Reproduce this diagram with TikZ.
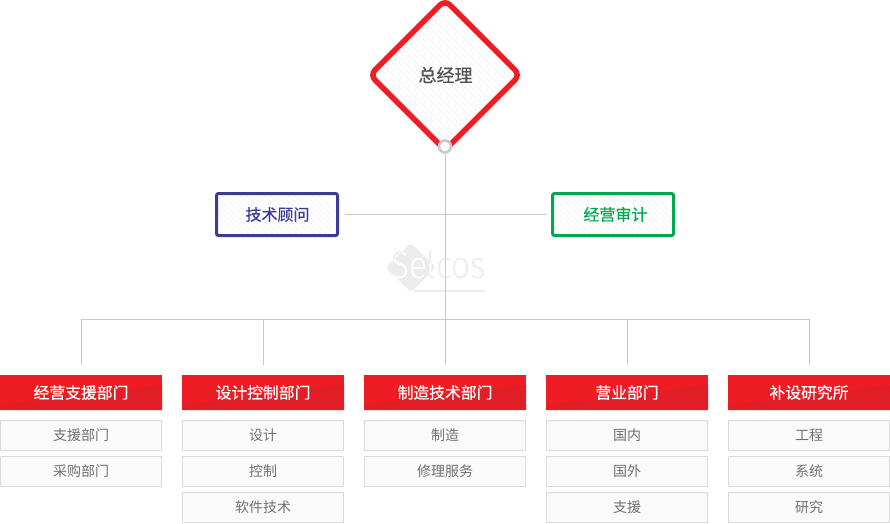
\documentclass[tikz,border=0pt]{standalone}
\usepackage{fontspec}
\setmainfont{Noto Sans CJK SC}
\newfontfamily\boldish[FakeBold=0.5]{Noto Sans CJK SC}
\newfontfamily\wmfont{Fira Sans Light}
\definecolor{redm}{HTML}{EE1C25}
\definecolor{redd}{HTML}{E11E26}
\definecolor{navy}{HTML}{3A3C96}
\definecolor{grn}{HTML}{00A651}
\definecolor{linec}{HTML}{C8C8C8}
\definecolor{itemb}{HTML}{DADADA}
\definecolor{itemf}{HTML}{FAFAFA}
\definecolor{itemt}{HTML}{707070}
\definecolor{hatch}{HTML}{EDEDED}
\definecolor{wm}{HTML}{ECECEC}
\tikzset{
 x=1pt,y=-1pt,
 px/.style={inner sep=0pt,outer sep=0pt},
 conn/.style={draw=linec,line width=1pt},
 headbox/.style={px,minimum width=162pt,minimum height=35pt,text=white,font=\boldish\fontsize{15.8pt}{17pt}\selectfont},
 itembox/.style={px,draw=itemb,fill=itemf,line width=1pt,minimum width=161pt,minimum height=30pt,text=itemt,font=\fontsize{14pt}{15pt}\selectfont},
 topbox/.style={px,minimum width=121pt,minimum height=42pt,font=\boldish\fontsize{16pt}{17pt}\selectfont},
 hatchline/.style={draw=hatch,line width=.7pt},
 wmtext/.style={px,anchor=base west,xscale=.88,font=\wmfont\fontsize{38pt}{38pt}\selectfont},
}
\begin{document}
\begin{tikzpicture}
\useasboundingbox (0,0) rectangle (890,523);
% watermark
\node[wmtext,text=wm] (wmt) at (391,278) {Selcos};
\fill[wm,rounded corners=3pt] (385.5,267.5) -- (411,243) -- (436,267.5) -- (411,292) -- cycle;
\begin{scope}
\clip[rounded corners=3pt] (385.5,267.5) -- (411,243) -- (436,267.5) -- (411,292) -- cycle;
\node[wmtext,text=white] (wms) at (391,278) {Selcos};
\end{scope}
\fill[wm] (414,289.5) rectangle (485,291.5);
% diamond
\begin{scope}
\clip[rounded corners=7pt] (445,-2) -- (522,75) -- (445,152) -- (368,75) -- cycle;
\foreach \k in {-160,-154,...,160}{\draw[hatchline] (445+\k-100,-25) -- (445+\k+100,175);}
\end{scope}
\node[px,font=\boldish\fontsize{18pt}{19pt}\selectfont,text=black!68] (ceo) at (445.5,75) {总经理};
\draw[redm,line width=5.5pt,rounded corners=7pt] (445,0) -- (520,75) -- (445,150) -- (370,75) -- cycle;
\node[circle,px,draw=linec,fill=white,line width=2.6pt,minimum size=12pt] (dot) at (445,146.5) {};
% top boxes
\begin{scope}
\clip (216.5,193.5) rectangle (337.5,235.5);
\foreach \k in {-60,-54,...,60}{\draw[hatchline] (277+\k-30,184) -- (277+\k+30,244);}
\end{scope}
\begin{scope}
\clip (552.5,193.5) rectangle (673.5,235.5);
\foreach \k in {-60,-54,...,60}{\draw[hatchline] (613+\k-30,184) -- (613+\k+30,244);}
\end{scope}
\node[topbox,text=navy] (tech) at (277.5,214.5) {技术顾问};
\node[topbox,text=grn] (audit) at (615.5,214.5) {经营审计};
\draw[navy,line width=3pt,rounded corners=2pt] (216.5,193.5) rectangle (337.5,235.5);
\draw[grn,line width=3pt,rounded corners=2pt] (552.5,193.5) rectangle (673.5,235.5);
% coordinates
\coordinate (tl) at (345,214.5);
\coordinate (tr) at (547,214.5);
\coordinate (bl) at (81.5,319.5);
\coordinate (br) at (809.5,319.5);
\coordinate (d1) at (81.5,365);
\coordinate (d2) at (263.5,365);
\coordinate (b2) at (263.5,319.5);
\coordinate (d3) at (445.5,365);
\coordinate (d4) at (627.5,365);
\coordinate (b4) at (627.5,319.5);
\coordinate (d5) at (809.5,365);
\draw[conn] (445.5,152.5) -- (d3);
\draw[conn] (tl) -- (tr);
\draw[conn] (d1) -- (bl) -- (br) -- (d5);
\draw[conn] (b2) -- (d2);
\draw[conn] (b4) -- (d4);
% columns
\foreach \n/\xc/\h in {1/81/经营支援部门,2/263/设计控制部门,3/445/制造技术部门,4/627/营业部门,5/809/补设研究所}{
  \fill[redm] (\xc-81,375) rectangle (\xc+81,410);
  \fill[redd] (\xc-81,405.5) -- (\xc+81,385) -- (\xc+81,410) -- (\xc-81,410) -- cycle;
  \node[headbox] (h\n) at (\xc,392.5) {\h};
}
\foreach \nm/\xc/\yc/\t in {
 a1/81/435.5/支援部门,a2/81/471.5/采购部门,
 b1/263/435.5/设计,b2x/263/471.5/控制,b3/263/507.5/软件技术,
 c1/445/435.5/制造,c2/445/471.5/修理服务,
 e1/627/435.5/国内,e2/627/471.5/国外,e3/627/507.5/支援,
 f1/809/435.5/工程,f2/809/471.5/系统,f3/809/507.5/研究}{
  \node[itembox] (\nm) at (\xc,\yc) {\t};
}
\end{tikzpicture}
\end{document}
